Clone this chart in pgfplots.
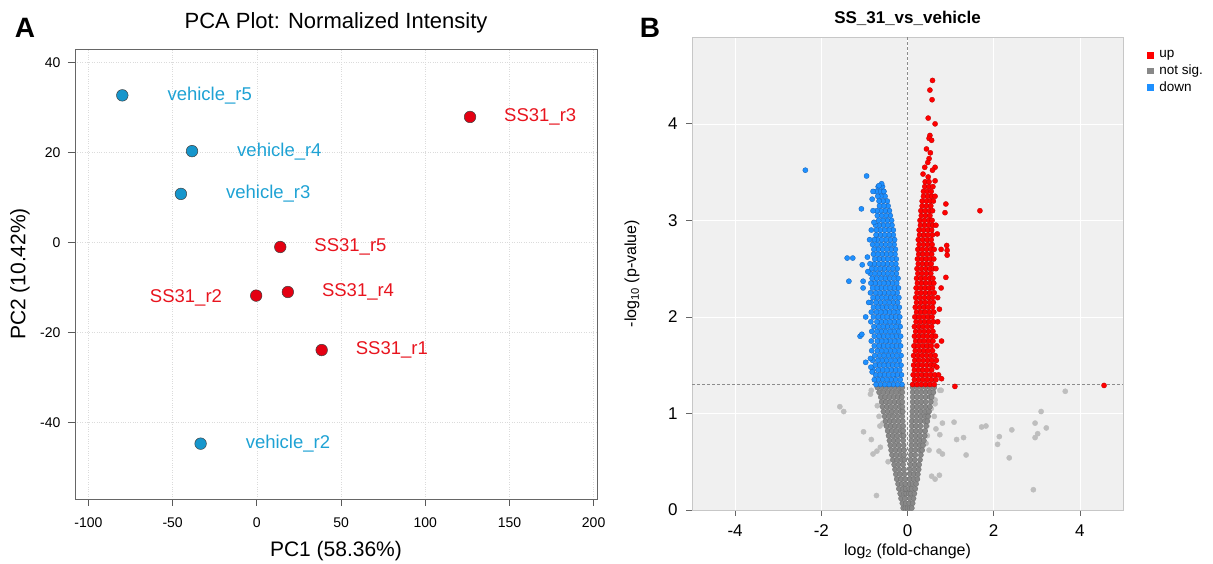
\documentclass[border=0pt]{standalone}
\usepackage{fontspec}
\setmainfont{Liberation Sans}
\usepackage{pgfplots}
\pgfplotsset{compat=1.18}
\definecolor{vblue}{RGB}{22,150,204}
\definecolor{vbluetext}{RGB}{30,162,212}
\definecolor{sred}{RGB}{228,0,18}
\definecolor{sredtext}{RGB}{232,20,30}
\definecolor{upred}{RGB}{255,0,0}
\definecolor{upedge}{RGB}{190,0,0}
\definecolor{downblue}{RGB}{30,144,255}
\definecolor{downedge}{RGB}{20,95,180}
\definecolor{nsgray}{RGB}{136,136,136}
\definecolor{nsedge}{RGB}{110,110,110}
\definecolor{nslight}{RGB}{190,190,190}
\definecolor{panelbg}{RGB}{240,240,240}
\begin{document}
\begin{tikzpicture}
\path[use as bounding box] (0pt,0pt) rectangle (1213pt,564pt);
\node[font=\fontsize{28}{30}\selectfont\bfseries] at (25pt,536pt) {A};
\node[font=\fontsize{28}{30}\selectfont\bfseries] at (650pt,536pt) {B};

% ---------------- Panel A: PCA ----------------
\begin{axis}[at={(75pt,65pt)}, anchor=south west, scale only axis,
  width=522pt, height=450pt,
  xmin=-108, xmax=202, ymin=-57, ymax=43,
  xtick={-100,-50,0,50,100,150,200}, ytick={-40,-20,0,20,40},
  tick align=outside, xtick pos=bottom, ytick pos=left,
  major tick length=7pt,
  tick style={draw=black!65, line width=0.8pt},
  axis line style={draw=black!60, line width=0.8pt},
  grid=major, grid style={dotted, black!14, line width=0.6pt},
  ticklabel style={font=\fontsize{14}{16}\selectfont},
  xticklabel style={yshift=-8pt},
  yticklabel style={xshift=-4pt},
  /pgf/number format/assume math mode=true,
  xlabel={PC1 (58.36\%)}, ylabel={PC2 (10.42\%)},
  xlabel style={font=\fontsize{21}{24}\selectfont, at={(axis description cs:0.5,-0.1156)}, anchor=center},
  ylabel style={font=\fontsize{21}{24}\selectfont, at={(axis description cs:-0.1054,0.5)}, anchor=center},
  title={PCA Plot: Normalized Intensity},
  every axis title shift=0pt,
  title style={font=\fontsize{22}{25}\selectfont, at={(axis description cs:0.5,1.058)}, anchor=center},
  clip=false]
\addplot[only marks, mark=*, mark size=5.8pt, mark options={fill=vblue, draw=black!75, line width=0.5pt}]
  coordinates {(-79.9,32.7) (-38.5,20.3) (-45.1,10.8) (-33.4,-44.7)};
\addplot[only marks, mark=*, mark size=5.8pt, mark options={fill=sred, draw=black!75, line width=0.5pt}]
  coordinates {(126.6,27.9) (13.9,-1.0) (-0.4,-11.8) (18.4,-11.0) (38.5,-23.9)};
\begin{scope}[every node/.style={font=\fontsize{18.5}{20}\selectfont, inner sep=0pt}]
\node[anchor=west, text=vbluetext, xshift=45pt] at (axis cs:-79.9,32.7) {vehicle\_r5};
\node[anchor=west, text=vbluetext, xshift=45pt] at (axis cs:-38.5,20.3) {vehicle\_r4};
\node[anchor=west, text=vbluetext, xshift=45pt] at (axis cs:-45.1,10.8) {vehicle\_r3};
\node[anchor=west, text=vbluetext, xshift=45pt] at (axis cs:-33.4,-44.7) {vehicle\_r2};
\node[anchor=west, text=sredtext, xshift=34pt] at (axis cs:126.6,27.9) {SS31\_r3};
\node[anchor=west, text=sredtext, xshift=34pt] at (axis cs:13.9,-1.0) {SS31\_r5};
\node[anchor=west, text=sredtext, xshift=34pt] at (axis cs:18.4,-11.0) {SS31\_r4};
\node[anchor=west, text=sredtext, xshift=34pt] at (axis cs:38.5,-23.9) {SS31\_r1};
\node[anchor=east, text=sredtext, xshift=-34pt, yshift=-2pt] at (axis cs:-0.4,-11.8) {SS31\_r2};
\end{scope}
\end{axis}

% ---------------- Panel B: Volcano ----------------
\begin{axis}[at={(692pt,54pt)}, anchor=south west, scale only axis,
  width=431pt, height=473pt,
  xmin=-5, xmax=5, ymin=0, ymax=4.9,
  xtick={-4,-2,0,2,4}, ytick={0,1,2,3,4},
  axis background/.style={fill=panelbg},
  axis line style={draw=black!22, line width=0.8pt},
  tick align=outside, xtick pos=bottom, ytick pos=left,
  major tick length=6pt,
  tick style={draw=black!60, line width=0.8pt},
  grid=major, grid style={white, line width=0.5pt},
  ticklabel style={font=\fontsize{17}{19}\selectfont},
  xticklabel style={yshift=-5pt},
  yticklabel style={xshift=-5pt},
  /pgf/number format/assume math mode=true,
  xlabel={log\textsubscript{2} (fold-change)},
  ylabel={-log\textsubscript{10} (p-value)},
  xlabel style={font=\fontsize{16}{18}\selectfont, at={(axis description cs:0.5,-0.0867)}, anchor=center},
  ylabel style={font=\fontsize{16}{18}\selectfont, at={(axis description cs:-0.139,0.5)}, anchor=center},
  title={SS\_31\_vs\_vehicle},
  every axis title shift=0pt,
  title style={font=\fontsize{17}{19}\selectfont\bfseries, at={(axis description cs:0.5,1.040)}, anchor=center},
  legend style={at={(axis description cs:1,1)}, anchor=north west, xshift=21pt, yshift=-10pt,
    draw=none, fill=none, font=\fontsize{13.5}{15}\selectfont, row sep=2.5pt,
    /tikz/column sep=5pt, nodes={inner sep=1.5pt}},
  legend cell align=left]
\addlegendimage{only marks, mark=square*, mark size=2.8pt, color=upred}
\addlegendentry{up}
\addlegendimage{only marks, mark=square*, mark size=2.8pt, color=nsgray}
\addlegendentry{not sig.}
\addlegendimage{only marks, mark=square*, mark size=2.8pt, color=downblue}
\addlegendentry{down}

\addplot[forget plot, densely dashed, black!45, line width=0.6pt] coordinates {(0,0) (0,4.9)};
\addplot[forget plot, densely dashed, black!45, line width=0.6pt] coordinates {(-5,1.301) (5,1.301)};

% not significant, scattered
\addplot[forget plot, only marks, mark=*, mark size=2.6pt, mark options={fill=nslight, draw=nslight}] coordinates {
(3.66,1.23) (-1.57,1.07) (-1.48,1.02) (3.10,1.02) (2.96,0.90) (3.22,0.85) (1.72,0.86) (1.82,0.87)
(2.42,0.83) (1.08,0.91) (0.81,0.90) (1.14,0.73) (1.30,0.75) (2.13,0.76) (2.09,0.68) (3.02,0.79)
(2.96,0.75) (1.36,0.57) (2.36,0.54) (2.92,0.21) (-0.72,0.15) (-1.02,0.81) (-0.84,0.73) (-0.64,0.87)
(-0.80,0.58) (-0.71,0.61) (0.74,0.36) (0.56,0.35) (0.64,0.32) (0.73,0.61) (0.81,0.58) (0.75,0.78)
(0.46,0.77) (0.43,0.69) (-0.84,1.24) (-0.86,1.20) (0.75,1.24) (0.64,1.14) (0.64,1.10) (0.43,1.00)
(0.62,0.97) (0.45,0.87) (0.78,1.24) (-0.70,1.08) (-0.66,0.97) (-0.57,0.90) (-0.63,0.65) (0.58,1.20)
(0.55,1.05) (0.66,0.84) (0.50,0.62) (-0.52,1.16) (-0.45,0.50)};
% not significant, dense core
\addplot[forget plot, only marks, mark=*, mark size=2.6pt, mark options={fill=nsgray, draw=nsedge, line width=0.3pt}] coordinates {
(-0.10,0.02) (-0.05,0.02) (0.00,0.02) (0.05,0.02) (0.10,0.02)
(-0.12,0.07) (-0.04,0.07) (0.04,0.07) (0.12,0.07)
(-0.15,0.12) (-0.06,0.12) (0.05,0.12) (0.14,0.12)
(-0.17,0.17) (-0.08,0.17) (-0.03,0.17) (0.03,0.17) (0.08,0.17) (0.16,0.17)
(-0.20,0.22) (-0.10,0.22) (-0.04,0.22) (0.04,0.22) (0.10,0.22) (0.18,0.22)
(-0.22,0.27) (-0.13,0.27) (-0.05,0.27) (0.05,0.27) (0.12,0.27) (0.20,0.27)
(-0.25,0.32) (-0.15,0.32) (-0.05,0.32) (0.05,0.32) (0.14,0.32) (0.23,0.32)
(-0.27,0.37) (-0.17,0.37) (-0.07,0.37) (0.06,0.37) (0.15,0.37) (0.24,0.37)
(-0.29,0.42) (-0.19,0.42) (-0.08,0.42) (0.06,0.42) (0.16,0.42) (0.26,0.42)
(-0.31,0.47) (-0.21,0.47) (-0.10,0.47) (0.07,0.47) (0.17,0.47) (0.27,0.47)
(-0.34,0.52) (-0.24,0.52) (-0.14,0.52) (-0.07,0.52) (0.07,0.52) (0.17,0.52) (0.29,0.52)
(-0.36,0.57) (-0.26,0.57) (-0.16,0.57) (-0.08,0.57) (0.08,0.57) (0.18,0.57) (0.31,0.57)
(-0.38,0.62) (-0.28,0.62) (-0.18,0.62) (-0.08,0.62) (0.08,0.62) (0.18,0.62) (0.28,0.62) (0.34,0.62)
(-0.40,0.67) (-0.30,0.67) (-0.20,0.67) (-0.09,0.67) (0.09,0.67) (0.19,0.67) (0.29,0.67) (0.36,0.67)
(-0.42,0.72) (-0.32,0.72) (-0.22,0.72) (-0.10,0.72) (0.09,0.72) (0.19,0.72) (0.29,0.72) (0.38,0.72)
(-0.44,0.77) (-0.34,0.77) (-0.24,0.77) (-0.14,0.77) (-0.09,0.77) (0.09,0.77) (0.19,0.77) (0.29,0.77) (0.40,0.77)
(-0.46,0.82) (-0.36,0.82) (-0.26,0.82) (-0.16,0.82) (-0.10,0.82) (0.10,0.82) (0.20,0.82) (0.30,0.82) (0.41,0.82)
(-0.49,0.87) (-0.39,0.87) (-0.29,0.87) (-0.19,0.87) (-0.10,0.87) (0.10,0.87) (0.20,0.87) (0.30,0.87) (0.43,0.87)
(-0.51,0.92) (-0.41,0.92) (-0.31,0.92) (-0.21,0.92) (-0.11,0.92) (0.10,0.92) (0.20,0.92) (0.30,0.92) (0.40,0.92) (0.46,0.92)
(-0.53,0.97) (-0.43,0.97) (-0.33,0.97) (-0.23,0.97) (-0.12,0.97) (0.11,0.97) (0.21,0.97) (0.31,0.97) (0.41,0.97) (0.48,0.97)
(-0.56,1.02) (-0.46,1.02) (-0.36,1.02) (-0.26,1.02) (-0.16,1.02) (-0.11,1.02) (0.11,1.02) (0.21,1.02) (0.31,1.02) (0.41,1.02) (0.50,1.02)
(-0.58,1.07) (-0.48,1.07) (-0.38,1.07) (-0.28,1.07) (-0.18,1.07) (-0.12,1.07) (0.12,1.07) (0.22,1.07) (0.32,1.07) (0.42,1.07) (0.52,1.07)
(-0.60,1.12) (-0.50,1.12) (-0.40,1.12) (-0.30,1.12) (-0.20,1.12) (-0.12,1.12) (0.12,1.12) (0.22,1.12) (0.32,1.12) (0.42,1.12) (0.54,1.12)
(-0.62,1.17) (-0.52,1.17) (-0.42,1.17) (-0.32,1.17) (-0.22,1.17) (-0.13,1.17) (0.12,1.17) (0.22,1.17) (0.32,1.17) (0.42,1.17) (0.52,1.17) (0.56,1.17)
(-0.66,1.22) (-0.56,1.22) (-0.46,1.22) (-0.36,1.22) (-0.26,1.22) (-0.16,1.22) (-0.12,1.22) (0.12,1.22) (0.22,1.22) (0.32,1.22) (0.42,1.22) (0.52,1.22) (0.60,1.22)
(-0.70,1.27) (-0.60,1.27) (-0.50,1.27) (-0.40,1.27) (-0.30,1.27) (-0.20,1.27) (-0.12,1.27) (0.12,1.27) (0.22,1.27) (0.32,1.27) (0.42,1.27) (0.52,1.27) (0.62,1.27)};

% down-regulated
\addplot[forget plot, only marks, mark=*, mark size=2.6pt, mark options={fill=downblue, draw=downedge, line width=0.3pt}] coordinates {
(-0.13,1.30) (-0.23,1.30) (-0.33,1.30) (-0.43,1.30) (-0.53,1.30) (-0.63,1.30) (-0.73,1.30)
(-0.17,1.35) (-0.28,1.35) (-0.38,1.35) (-0.48,1.35) (-0.58,1.35) (-0.68,1.35) (-0.77,1.35)
(-0.14,1.40) (-0.24,1.40) (-0.34,1.40) (-0.44,1.40) (-0.54,1.40) (-0.64,1.40) (-0.74,1.40)
(-0.18,1.45) (-0.28,1.45) (-0.38,1.45) (-0.48,1.45) (-0.58,1.45) (-0.68,1.45) (-0.80,1.45)
(-0.15,1.50) (-0.25,1.50) (-0.35,1.50) (-0.45,1.50) (-0.55,1.50) (-0.65,1.50) (-0.75,1.50)
(-0.19,1.55) (-0.29,1.55) (-0.39,1.55) (-0.49,1.55) (-0.59,1.55) (-0.69,1.55) (-0.81,1.55)
(-0.15,1.60) (-0.25,1.60) (-0.35,1.60) (-0.45,1.60) (-0.55,1.60) (-0.65,1.60) (-0.76,1.60)
(-0.20,1.65) (-0.30,1.65) (-0.40,1.65) (-0.50,1.65) (-0.60,1.65) (-0.70,1.65) (-0.83,1.65)
(-0.16,1.70) (-0.26,1.70) (-0.36,1.70) (-0.46,1.70) (-0.56,1.70) (-0.66,1.70) (-0.77,1.70)
(-0.20,1.75) (-0.30,1.75) (-0.40,1.75) (-0.50,1.75) (-0.60,1.75) (-0.70,1.75) (-0.84,1.75)
(-0.16,1.80) (-0.26,1.80) (-0.36,1.80) (-0.46,1.80) (-0.56,1.80) (-0.66,1.80) (-0.77,1.80)
(-0.21,1.85) (-0.31,1.85) (-0.41,1.85) (-0.51,1.85) (-0.61,1.85) (-0.71,1.85) (-0.83,1.85)
(-0.17,1.90) (-0.27,1.90) (-0.37,1.90) (-0.47,1.90) (-0.57,1.90) (-0.67,1.90) (-0.78,1.90)
(-0.21,1.95) (-0.31,1.95) (-0.41,1.95) (-0.51,1.95) (-0.61,1.95) (-0.71,1.95) (-0.85,1.95)
(-0.18,2.00) (-0.28,2.00) (-0.38,2.00) (-0.48,2.00) (-0.58,2.00) (-0.68,2.00) (-0.79,2.00)
(-0.22,2.05) (-0.32,2.05) (-0.42,2.05) (-0.52,2.05) (-0.62,2.05) (-0.72,2.05) (-0.84,2.05)
(-0.19,2.10) (-0.29,2.10) (-0.39,2.10) (-0.49,2.10) (-0.59,2.10) (-0.69,2.10) (-0.79,2.10)
(-0.23,2.15) (-0.33,2.15) (-0.43,2.15) (-0.53,2.15) (-0.63,2.15) (-0.73,2.15) (-0.85,2.15)
(-0.20,2.20) (-0.30,2.20) (-0.40,2.20) (-0.50,2.20) (-0.60,2.20) (-0.70,2.20) (-0.80,2.20)
(-0.24,2.25) (-0.34,2.25) (-0.44,2.25) (-0.54,2.25) (-0.64,2.25) (-0.74,2.25) (-0.86,2.25)
(-0.21,2.30) (-0.31,2.30) (-0.41,2.30) (-0.51,2.30) (-0.61,2.30) (-0.71,2.30) (-0.81,2.30)
(-0.25,2.35) (-0.35,2.35) (-0.45,2.35) (-0.55,2.35) (-0.65,2.35) (-0.75,2.35) (-0.85,2.35)
(-0.22,2.40) (-0.32,2.40) (-0.42,2.40) (-0.52,2.40) (-0.62,2.40) (-0.72,2.40) (-0.82,2.40)
(-0.26,2.45) (-0.36,2.45) (-0.46,2.45) (-0.56,2.45) (-0.66,2.45) (-0.76,2.45) (-0.86,2.45)
(-0.24,2.50) (-0.34,2.50) (-0.44,2.50) (-0.54,2.50) (-0.64,2.50) (-0.74,2.50) (-0.83,2.50)
(-0.27,2.55) (-0.37,2.55) (-0.47,2.55) (-0.57,2.55) (-0.67,2.55) (-0.77,2.55) (-0.87,2.55)
(-0.26,2.60) (-0.36,2.60) (-0.46,2.60) (-0.56,2.60) (-0.66,2.60) (-0.76,2.60)
(-0.29,2.65) (-0.39,2.65) (-0.49,2.65) (-0.59,2.65) (-0.69,2.65) (-0.79,2.65)
(-0.28,2.70) (-0.38,2.70) (-0.48,2.70) (-0.58,2.70) (-0.68,2.70) (-0.78,2.70)
(-0.31,2.75) (-0.41,2.75) (-0.51,2.75) (-0.61,2.75) (-0.71,2.75) (-0.81,2.75)
(-0.30,2.80) (-0.40,2.80) (-0.50,2.80) (-0.60,2.80) (-0.70,2.80) (-0.77,2.80)
(-0.33,2.85) (-0.43,2.85) (-0.53,2.85) (-0.63,2.85) (-0.73,2.85)
(-0.33,2.90) (-0.43,2.90) (-0.53,2.90) (-0.63,2.90) (-0.72,2.90)
(-0.36,2.95) (-0.46,2.95) (-0.56,2.95) (-0.66,2.95) (-0.74,2.95)
(-0.37,3.00) (-0.47,3.00) (-0.57,3.00) (-0.67,3.00)
(-0.40,3.05) (-0.50,3.05) (-0.60,3.05) (-0.70,3.05)
(-0.42,3.10) (-0.52,3.10) (-0.62,3.10) (-0.71,3.10)
(-0.45,3.15) (-0.55,3.15) (-0.65,3.15)
(-0.47,3.20) (-0.57,3.20) (-0.66,3.20)
(-0.52,3.25) (-0.62,3.25) (-0.69,3.25)
(-0.55,3.30) (-0.64,3.30) (-0.73,3.30) (-0.80,3.30)
(-0.58,3.35) (-0.68,3.35)
(-2.37,3.52) (-0.95,3.46) (-1.07,3.12) (-0.82,3.22) (-0.78,2.98) (-0.84,2.90) (-0.88,2.80)
(-1.40,2.61) (-1.27,2.61) (-1.05,2.54) (-1.36,2.37) (-1.03,2.37) (-0.92,2.47) (-1.03,2.30)
(-0.97,2.00) (-1.10,1.80) (-1.06,1.82) (-0.97,1.53) (-0.86,1.57) (-0.85,1.48) (-0.82,1.43)
(-0.90,2.15) (-0.93,2.62) (-0.80,3.10) (-0.60,3.38) (-0.66,3.36) (-0.55,3.30)};

% up-regulated
\addplot[forget plot, only marks, mark=*, mark size=2.6pt, mark options={fill=upred, draw=upedge, line width=0.3pt}] coordinates {
(0.12,1.30) (0.22,1.30) (0.32,1.30) (0.42,1.30) (0.52,1.30) (0.62,1.30)
(0.16,1.35) (0.26,1.35) (0.36,1.35) (0.46,1.35) (0.56,1.35) (0.66,1.35)
(0.13,1.40) (0.23,1.40) (0.33,1.40) (0.43,1.40) (0.53,1.40) (0.63,1.40)
(0.16,1.45) (0.26,1.45) (0.36,1.45) (0.46,1.45) (0.56,1.45)
(0.14,1.50) (0.24,1.50) (0.34,1.50) (0.44,1.50) (0.54,1.50) (0.62,1.50)
(0.17,1.55) (0.27,1.55) (0.37,1.55) (0.47,1.55) (0.57,1.55)
(0.14,1.60) (0.24,1.60) (0.34,1.60) (0.44,1.60) (0.54,1.60) (0.64,1.60)
(0.18,1.65) (0.28,1.65) (0.38,1.65) (0.48,1.65) (0.58,1.65)
(0.15,1.70) (0.25,1.70) (0.35,1.70) (0.45,1.70) (0.55,1.70)
(0.19,1.75) (0.29,1.75) (0.39,1.75) (0.49,1.75) (0.59,1.75)
(0.16,1.80) (0.26,1.80) (0.36,1.80) (0.46,1.80) (0.56,1.80) (0.65,1.80)
(0.19,1.85) (0.29,1.85) (0.39,1.85) (0.49,1.85) (0.59,1.85)
(0.16,1.90) (0.26,1.90) (0.36,1.90) (0.46,1.90) (0.56,1.90)
(0.20,1.95) (0.30,1.95) (0.40,1.95) (0.50,1.95) (0.60,1.95)
(0.17,2.00) (0.27,2.00) (0.37,2.00) (0.47,2.00) (0.57,2.00)
(0.21,2.05) (0.31,2.05) (0.41,2.05) (0.51,2.05) (0.61,2.05)
(0.18,2.10) (0.28,2.10) (0.38,2.10) (0.48,2.10) (0.58,2.10)
(0.21,2.15) (0.31,2.15) (0.41,2.15) (0.51,2.15) (0.60,2.15)
(0.19,2.20) (0.29,2.20) (0.39,2.20) (0.49,2.20) (0.58,2.20)
(0.22,2.25) (0.32,2.25) (0.42,2.25) (0.52,2.25) (0.62,2.25)
(0.20,2.30) (0.30,2.30) (0.40,2.30) (0.50,2.30) (0.58,2.30)
(0.23,2.35) (0.33,2.35) (0.43,2.35) (0.53,2.35) (0.61,2.35)
(0.21,2.40) (0.31,2.40) (0.41,2.40) (0.51,2.40) (0.59,2.40)
(0.24,2.45) (0.34,2.45) (0.44,2.45) (0.54,2.45)
(0.22,2.50) (0.32,2.50) (0.42,2.50) (0.52,2.50) (0.60,2.50)
(0.25,2.55) (0.35,2.55) (0.45,2.55) (0.55,2.55)
(0.23,2.60) (0.33,2.60) (0.43,2.60) (0.53,2.60) (0.61,2.60)
(0.26,2.65) (0.36,2.65) (0.46,2.65) (0.56,2.65)
(0.24,2.70) (0.34,2.70) (0.44,2.70) (0.54,2.70) (0.62,2.70)
(0.27,2.75) (0.37,2.75) (0.47,2.75) (0.57,2.75)
(0.25,2.80) (0.35,2.80) (0.45,2.80) (0.55,2.80)
(0.28,2.85) (0.38,2.85) (0.48,2.85) (0.58,2.85)
(0.27,2.90) (0.37,2.90) (0.47,2.90) (0.56,2.90)
(0.30,2.95) (0.40,2.95) (0.50,2.95) (0.59,2.95)
(0.29,3.00) (0.39,3.00) (0.49,3.00) (0.57,3.00)
(0.32,3.05) (0.42,3.05) (0.52,3.05)
(0.31,3.10) (0.41,3.10) (0.51,3.10) (0.58,3.10)
(0.34,3.15) (0.44,3.15) (0.54,3.15)
(0.34,3.20) (0.44,3.20) (0.53,3.20) (0.60,3.20)
(0.37,3.25) (0.47,3.25) (0.56,3.25)
(0.37,3.30) (0.46,3.30) (0.55,3.30)
(0.40,3.35) (0.50,3.35) (0.59,3.35)
(0.41,3.40) (0.50,3.40)
(0.40,3.55) (0.64,3.55) (0.48,3.45) (0.64,3.41) (0.44,3.74) (0.53,3.70) (0.50,3.64) (0.52,3.88)
(0.50,3.85) (0.56,3.83) (0.48,4.06) (0.64,4.00) (0.57,4.25) (0.52,4.35) (0.58,4.45) (0.47,3.60)
(0.58,3.52) (0.36,3.48)
(0.89,3.17) (0.87,3.08) (1.68,3.10) (0.69,2.86) (0.91,2.74) (0.92,2.69) (0.92,2.64) (0.78,2.70)
(0.89,2.41) (0.78,2.30) (0.74,2.08) (0.79,1.75) (0.68,1.70) (0.67,1.55) (0.68,1.48) (0.79,1.36)
(1.10,1.28) (4.56,1.29) (0.70,2.20) (0.66,2.50) (0.70,1.95) (0.72,1.40) (0.66,2.95) (0.64,3.25)};
\end{axis}
\end{tikzpicture}
\end{document}
